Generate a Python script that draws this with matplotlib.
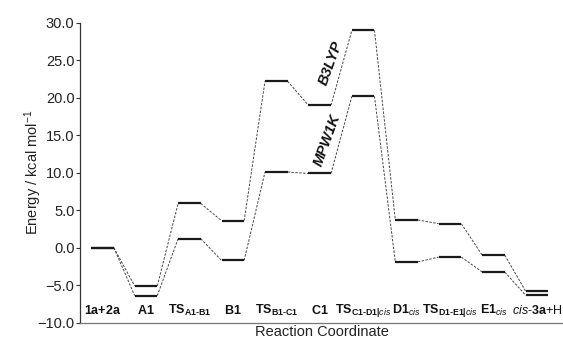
import matplotlib
matplotlib.use("Agg")
import matplotlib.pyplot as plt

plt.rcParams['font.family'] = ['Liberation Sans', 'DejaVu Sans']
plt.rcParams['mathtext.fontset'] = 'custom'
plt.rcParams['mathtext.rm'] = 'Liberation Sans'
plt.rcParams['mathtext.bf'] = 'Liberation Sans:bold'
plt.rcParams['mathtext.it'] = 'Liberation Sans:italic'
plt.rcParams['mathtext.sf'] = 'Liberation Sans'

H = '\u2010'
states = [
    r"$\mathbf{1a{+}2a}$",
    r"$\mathbf{A1}$",
    r"$\mathbf{TS}_{\mathbf{A1" + H + r"B1}}$",
    r"$\mathbf{B1}$",
    r"$\mathbf{TS}_{\mathbf{B1" + H + r"C1}}$",
    r"$\mathbf{C1}$",
    r"$\mathbf{TS}_{\mathbf{C1" + H + r"D1|}\mathit{cis}}$",
    r"$\mathbf{D1}_{\mathit{cis}}$",
    r"$\mathbf{TS}_{\mathbf{D1" + H + r"E1|}\mathit{cis}}$",
    r"$\mathbf{E1}_{\mathit{cis}}$",
    r"$\mathit{cis}$-$\mathbf{3a}$+H",
]
b3lyp = [0.0, -5.1, 5.9, 3.6, 22.2, 19.0, 29.0, 3.7, 3.2, -1.0, -5.8]
mpw1k = [0.0, -6.4, 1.2, -1.7, 10.1, 9.9, 20.2, -1.9, -1.25, -3.25, -6.35]

yticks = [-10, -5, 0, 5, 10, 15, 20, 25, 30]

fig = plt.figure(figsize=(5.63, 3.40), dpi=100)
ax = fig.add_axes([0.142, 0.051, 0.858, 0.882])

hw = 0.26
col = '#1a1a1a'
for series in (b3lyp, mpw1k):
    for i, v in enumerate(series):
        ax.plot([i - hw, i + hw], [v, v], color=col, lw=1.6, solid_capstyle='butt', zorder=3)
        if i < len(series) - 1:
            ax.plot([i + hw, i + 1 - hw], [v, series[i + 1]], color='#444444', lw=0.7,
                    dashes=(2.5, 1.5), zorder=2)

for i, lab in enumerate(states):
    ax.text(i, -8.4, lab, ha='center', va='center', fontsize=9, color='#111111')

ax.text(5.25, 24.6, 'B3LYP', rotation=70, ha='center', va='center', fontsize=10.5,
        fontweight='bold', fontstyle='italic', color='#111111')
ax.text(5.18, 14.3, 'MPW1K', rotation=70, ha='center', va='center', fontsize=10.5,
        fontweight='bold', fontstyle='italic', color='#111111')

ax.set_xlim(-0.52, 10.6)
ax.set_ylim(-10, 30)
ax.set_yticks(yticks)
ax.set_yticklabels([f"{t:.1f}".replace('-', '\u2212') for t in yticks], fontsize=10.5, color='#222222')
ax.set_xticks([])
ax.tick_params(axis='y', direction='out', length=3, width=0.8, color='#333333', pad=1)
for s in ('top', 'right'):
    ax.spines[s].set_visible(False)
ax.spines['left'].set_color('#333333')
ax.spines['left'].set_linewidth(0.9)
ax.spines['bottom'].set_color('#777777')
ax.spines['bottom'].set_linewidth(0.9)
ax.set_ylabel('Energy / kcal mol$^{\\mathregular{-1}}$', fontsize=10.5, color='#222222', labelpad=-5)
ax.set_xlabel('Reaction Coordinate', fontsize=10.5, color='#222222', labelpad=2)

fig.savefig('out.png', dpi=100)
